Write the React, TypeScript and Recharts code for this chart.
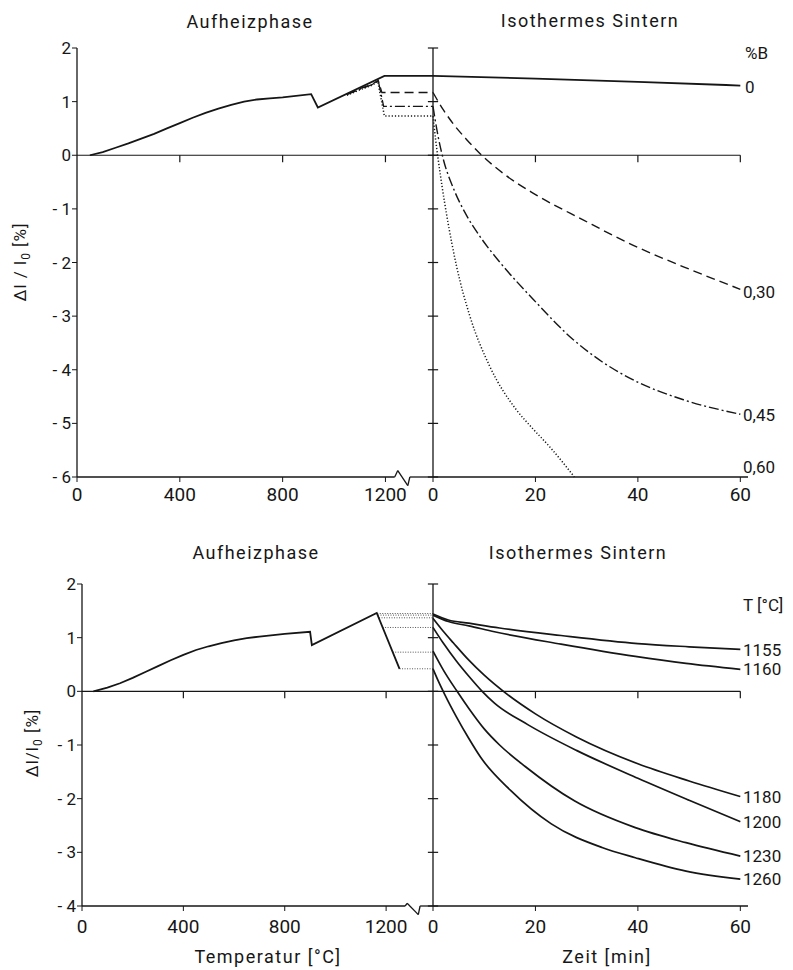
import React from 'react'
import { LineChart, Line, XAxis, YAxis, ReferenceLine } from 'recharts'

// tick labels
const heatTicks = [0, 400, 800, 1200]
const timeTicks = [0, 20, 40, 60]
const topYTicks = [2, 1, 0, -1, -2, -3, -4, -5, -6]
const bottomYTicks = [2, 1, 0, -1, -2, -3, -4]

// oben, Aufheizphase: [T in °C, dl/l0 in %] je Borgehalt
const heatB0 = [[50, 0], [100, 0.06], [150, 0.14], [200, 0.22], [250, 0.31], [300, 0.4], [350, 0.5], [400, 0.6], [450, 0.7], [500, 0.79], [550, 0.87], [600, 0.94], [650, 1.0], [700, 1.04], [750, 1.06], [800, 1.08], [911, 1.14], [937, 0.89], [1196, 1.48], [1385, 1.48]]
const heatB30 = [[1050, 1.14], [1100, 1.24], [1150, 1.33], [1172, 1.4], [1186, 1.17], [1385, 1.17]]
const heatB45 = [[1050, 1.13], [1100, 1.23], [1150, 1.32], [1172, 1.39], [1193, 0.91], [1385, 0.91]]
const heatB60 = [[1050, 1.12], [1100, 1.22], [1150, 1.31], [1170, 1.38], [1196, 0.73], [1385, 0.73]]

// oben, isothermes Sintern: [t in min, dl/l0 in %]
const isoB0 = [[0, 1.48], [20, 1.43], [40, 1.37], [60, 1.3]]
const isoB30 = [[0, 1.17], [2, 0.85], [4, 0.58], [6.5, 0.3], [9.2, 0.03], [14, -0.36], [19.6, -0.71], [29.4, -1.21], [39.1, -1.68], [48.9, -2.08], [60, -2.5]]
const isoB45 = [[0, 0.91], [1, 0.35], [2, -0.07], [4, -0.62], [6.6, -1.13], [9.5, -1.56], [13.1, -2.0], [19.6, -2.69], [27.4, -3.44], [33, -3.85], [39.1, -4.19], [48.9, -4.56], [60, -4.83]]
const isoB60 = [[0, 0.73], [0.5, 0.3], [1, -0.07], [1.8, -0.6], [2.7, -1.13], [4.6, -2.07], [7.2, -3.0], [11.1, -3.94], [16.3, -4.75], [19.5, -5.1], [22.9, -5.45], [27.6, -6.0]]

// unten, Aufheizphase
const heatT = [[45, 0], [100, 0.07], [150, 0.15], [200, 0.25], [250, 0.36], [300, 0.47], [350, 0.58], [400, 0.68], [450, 0.77], [500, 0.84], [550, 0.9], [600, 0.95], [650, 0.99], [700, 1.02], [800, 1.07], [900, 1.11], [907, 0.86], [1163, 1.46], [1253, 0.42]]
const hold1155 = [[1165, 1.45], [1385, 1.45]]
const hold1160 = [[1168, 1.42], [1385, 1.42]]
const hold1180 = [[1172, 1.37], [1385, 1.37]]
const hold1200 = [[1186, 1.19], [1385, 1.19]]
const hold1230 = [[1226, 0.73], [1385, 0.73]]
const hold1260 = [[1253, 0.42], [1385, 0.42]]

// unten, isothermes Sintern
const iso1155 = [[0, 1.44], [3, 1.33], [7, 1.27], [13, 1.18], [25, 1.04], [40, 0.89], [50, 0.83], [60, 0.78]]
const iso1160 = [[0, 1.42], [3, 1.3], [7, 1.22], [12, 1.11], [25, 0.88], [39.5, 0.65], [49.4, 0.52], [60, 0.41]]
const iso1180 = [[0, 1.36], [2, 1.12], [4, 0.9], [7, 0.58], [10, 0.3], [14, -0.02], [20, -0.42], [28, -0.85], [40, -1.35], [50, -1.67], [60, -1.96]]
const iso1200 = [[0, 1.19], [2, 0.9], [4.6, 0.56], [7, 0.28], [9.6, 0.0], [12, -0.22], [18.5, -0.62], [28, -1.1], [40, -1.62], [50, -2.03], [60, -2.43]]
const iso1230 = [[0, 0.75], [2, 0.4], [4.7, 0.0], [7, -0.32], [10, -0.7], [13, -1.0], [18, -1.4], [27.6, -2.04], [39.5, -2.54], [49.4, -2.82], [60, -3.07]]
const iso1260 = [[0, 0.42], [1, 0.2], [2.3, -0.06], [4.6, -0.48], [7, -0.88], [9.3, -1.23], [15.2, -1.85], [23.1, -2.47], [33, -2.91], [39.5, -3.1], [49.4, -3.35], [60, -3.5]]

const HEAT_MAX = 1385
const TIME_MAX = 61.5
const INK = '#161616'
const FONT = 'Roboto, sans-serif'
const xTickStyle = { fontSize: 19, fill: INK, fontFamily: FONT }
const yTickStyle = { fontSize: 17, fill: INK, fontFamily: FONT }

const pts = (a: number[][]) => a.map(([x, y]) => ({ x, y }))
const fmtY = (v: number) => (v < 0 ? `- ${Math.abs(v)}` : String(v))

type Series = { data: number[][]; dash?: string; width?: number; color?: string }

const dashed = '9 5'
const dashDot = '10 3 2 3'
const dotted = '1.2 2'
const holdDots = '1 1.5'

function renderLines(series: Series[], type: 'linear' | 'monotone') {
  return series.map((s, i) => (
    <Line
      key={i}
      data={pts(s.data)}
      dataKey="y"
      type={type}
      stroke={s.color || INK}
      strokeWidth={s.width || 1.5}
      strokeDasharray={s.dash}
      dot={false}
      activeDot={false}
      isAnimationActive={false}
    />
  ))
}

interface ChartProps {
  top: number
  height: number
  plotTop: number
  plotBottom: number
  yTicks: number[]
  series: Series[]
  labelGap: number
}

function HeatChart({ top, height, plotTop, plotBottom, yTicks, series, labelGap, plotLeft, zig }: ChartProps & { plotLeft: number; zig: number[][] }) {
  const yMax = yTicks[0]
  const yMin = yTicks[yTicks.length - 1]
  const margin = { top: plotTop, right: 0, left: plotLeft - 40, bottom: height - plotBottom - 30 }
  const axisPath = [[0, yMin], ...zig, [HEAT_MAX, yMin]]
  return (
    <div style={{ position: 'absolute', left: 0, top }}>
      <LineChart width={433} height={height} margin={margin}>
        <XAxis dataKey="x" type="number" domain={[0, HEAT_MAX]} ticks={heatTicks} interval={0} axisLine={false}
          tickLine={{ stroke: INK }} tickSize={5} tickMargin={labelGap} tick={xTickStyle} height={30} />
        <YAxis type="number" domain={[yMin, yMax]} ticks={yTicks} interval={0} tickFormatter={fmtY}
          axisLine={{ stroke: INK, strokeWidth: 1.3 }} tickLine={{ stroke: INK }} tickSize={5} tickMargin={1} tick={yTickStyle} width={40} />
        <ReferenceLine y={0} stroke={INK} strokeWidth={1.2} />
        {heatTicks.slice(1).map((t) => (
          <ReferenceLine key={'t' + t} segment={[{ x: t, y: 0 }, { x: t, y: -0.13 }]} stroke={INK} strokeWidth={1.2} />
        ))}
        {axisPath.slice(1).map((p, i) => (
          <ReferenceLine key={'z' + i} ifOverflow="visible" stroke={INK} strokeWidth={1.3}
            segment={[{ x: axisPath[i][0], y: axisPath[i][1] }, { x: p[0], y: p[1] }]} />
        ))}
        {renderLines(series, 'linear')}
      </LineChart>
    </div>
  )
}

function IsoChart({ top, height, plotTop, plotBottom, yTicks, series, labelGap }: ChartProps) {
  const yMax = yTicks[0]
  const yMin = yTicks[yTicks.length - 1]
  const margin = { top: plotTop, right: 10, left: 10, bottom: height - plotBottom - 30 }
  return (
    <div style={{ position: 'absolute', left: 423, top }}>
      <LineChart width={335} height={height} margin={margin}>
        <XAxis dataKey="x" type="number" domain={[0, TIME_MAX]} ticks={timeTicks} interval={0}
          axisLine={{ stroke: INK, strokeWidth: 1.3 }} tickLine={{ stroke: INK }} tickSize={5} tickMargin={labelGap} tick={xTickStyle} height={30} />
        <YAxis hide type="number" domain={[yMin, yMax]} />
        <ReferenceLine x={0} stroke={INK} strokeWidth={1.3} />
        <ReferenceLine segment={[{ x: 0, y: 0 }, { x: 60, y: 0 }]} stroke={INK} strokeWidth={1.2} />
        {timeTicks.slice(1).map((t) => (
          <ReferenceLine key={'t' + t} segment={[{ x: t, y: 0 }, { x: t, y: -0.13 }]} stroke={INK} strokeWidth={1.2} />
        ))}
        {yTicks.map((v) => (
          <ReferenceLine key={'y' + v} ifOverflow="visible" segment={[{ x: -1, y: v }, { x: 1, y: v }]} stroke={INK} strokeWidth={1.2} />
        ))}
        {renderLines(series, 'monotone')}
      </LineChart>
    </div>
  )
}

function Txt({ x, y, children, size = 18, align = 'center', spacing = 0, rotate = false }: {
  x: number; y: number; children: React.ReactNode; size?: number; align?: 'center' | 'left'; spacing?: number; rotate?: boolean
}) {
  const tx = align === 'center' ? '-50%' : '0'
  return (
    <div style={{
      position: 'absolute', left: x, top: y, fontSize: size, fontFamily: FONT, color: INK, lineHeight: 1,
      whiteSpace: 'nowrap', letterSpacing: spacing,
      transform: `translate(${tx}, -50%)${rotate ? ' rotate(-90deg)' : ''}`,
    }}>
      {children}
    </div>
  )
}

const YLabel = ({ spaced }: { spaced: boolean }) => (
  <span>
    Δl{spaced ? ' / ' : '/'}l<span style={{ fontSize: 12, position: 'relative', top: 4 }}>0</span> [%]
  </span>
)

export default function App() {
  const topHeat: Series[] = [
    { data: heatB60, dash: dotted, width: 1.5 },
    { data: heatB45, dash: dashDot, width: 1.3 },
    { data: heatB30, dash: dashed, width: 1.3 },
    { data: heatB0, width: 1.8 },
  ]
  const topIso: Series[] = [
    { data: isoB0, width: 1.8 },
    { data: isoB30, dash: dashed, width: 1.4 },
    { data: isoB45, dash: dashDot, width: 1.4 },
    { data: isoB60, dash: dotted, width: 1.5 },
  ]
  const holds = [hold1155, hold1160, hold1180, hold1200, hold1230, hold1260]
  const bottomHeat: Series[] = [
    ...holds.map((h) => ({ data: h, dash: holdDots, width: 1, color: '#555' })),
    { data: heatT, width: 1.8 },
  ]
  const bottomIso: Series[] = [iso1155, iso1160, iso1180, iso1200, iso1230, iso1260].map((d) => ({ data: d, width: 1.7 }))

  return (
    <div style={{ position: 'absolute', left: 0, top: 0, width: 793, height: 970, background: '#fff', overflow: 'hidden' }}>
      <HeatChart top={0} height={540} plotTop={48} plotBottom={477} plotLeft={77} yTicks={topYTicks}
        series={topHeat} labelGap={6} zig={[[1236, -6], [1248, -5.88], [1287, -6.16], [1295, -6]]} />
      <IsoChart top={0} height={540} plotTop={48} plotBottom={477} yTicks={topYTicks} series={topIso} labelGap={6} />

      <HeatChart top={540} height={410} plotTop={44} plotBottom={366} plotLeft={82} yTicks={bottomYTicks}
        series={bottomHeat} labelGap={9} zig={[[1275, -4], [1283, -3.95], [1327, -4.16], [1334, -4]]} />
      <IsoChart top={540} height={410} plotTop={44} plotBottom={366} yTicks={bottomYTicks} series={bottomIso} labelGap={9} />

      <Txt x={250} y={22} spacing={1.5}>Aufheizphase</Txt>
      <Txt x={590} y={21} spacing={1.5}>Isothermes Sintern</Txt>
      <Txt x={256} y={553} spacing={1.5}>Aufheizphase</Txt>
      <Txt x={578} y={553} spacing={1.5}>Isothermes Sintern</Txt>

      <Txt x={20} y={262} size={17} spacing={1} rotate><YLabel spaced /></Txt>
      <Txt x={32} y={743} size={17} spacing={1} rotate><YLabel spaced={false} /></Txt>

      <Txt x={268} y={957} spacing={1.5}>Temperatur [°C]</Txt>
      <Txt x={607} y={957} spacing={1.5}>Zeit [min]</Txt>

      <Txt x={745} y={53} size={17} align="left">%B</Txt>
      <Txt x={745} y={87} size={17} align="left">0</Txt>
      <Txt x={743} y={292} size={17} align="left">0,30</Txt>
      <Txt x={743} y={415} size={17} align="left">0,45</Txt>
      <Txt x={743} y={467} size={17} align="left">0,60</Txt>

      <Txt x={743} y={605} size={17} align="left">T [°C]</Txt>
      <Txt x={743} y={650} size={17} align="left">1155</Txt>
      <Txt x={743} y={669} size={17} align="left">1160</Txt>
      <Txt x={743} y={797} size={17} align="left">1180</Txt>
      <Txt x={743} y={822} size={17} align="left">1200</Txt>
      <Txt x={743} y={856} size={17} align="left">1230</Txt>
      <Txt x={743} y={879} size={17} align="left">1260</Txt>
    </div>
  )
}
